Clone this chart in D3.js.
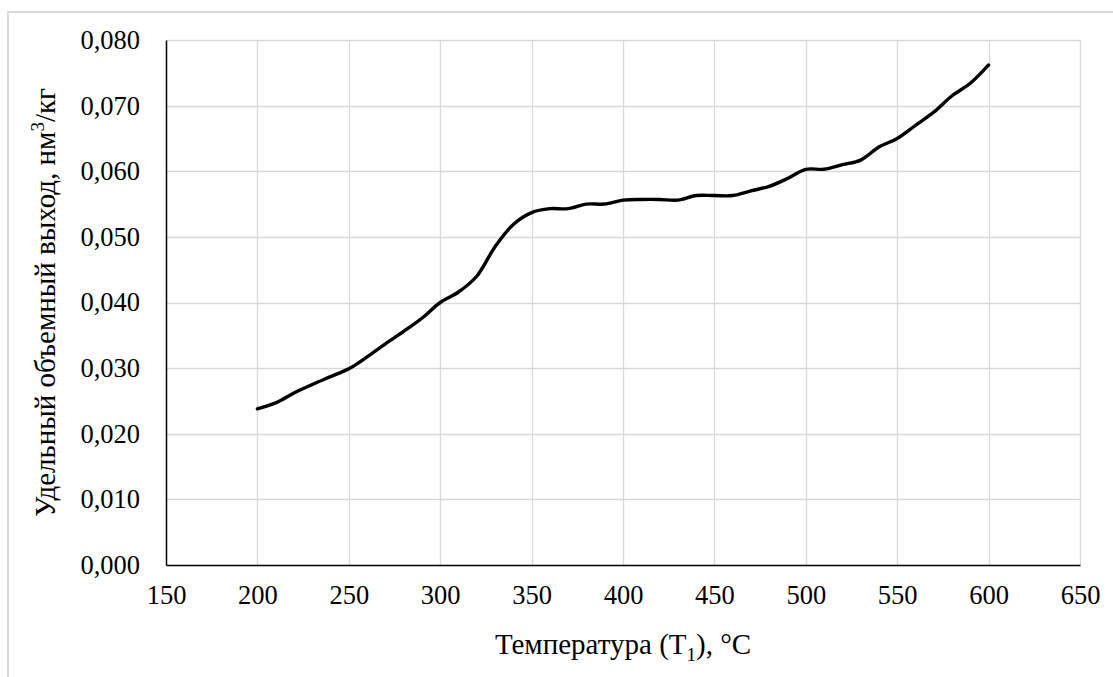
<!DOCTYPE html>
<html>
<head>
<meta charset="utf-8">
<script src="https://cdn.jsdelivr.net/npm/d3@7"></script>
<style>
  body { margin: 0; background: #fff; }
  svg text { font-family: "Liberation Serif", "Times New Roman", Times, serif !important; fill: #000; }
</style>
</head>
<body>
<div id="viz"></div>
<script>
const width = 1113;
const height = 677;
const margin = {top: 40, right: 33, bottom: 112, left: 166};

// data
const temps = [200, 210, 220, 230, 240, 250, 260, 270, 280, 290,
               300, 310, 320, 330, 340, 350, 360, 370, 380, 390,
               400, 410, 420, 430, 440, 450, 460, 470, 480, 490,
               500, 510, 520, 530, 540, 550, 560, 570, 580, 590, 600];
const yields = [0.0238, 0.0247, 0.0262, 0.0275, 0.0287, 0.0299, 0.0317, 0.0337, 0.0356, 0.0376,
                0.0400, 0.0416, 0.0440, 0.0485, 0.0519, 0.0537, 0.0543, 0.0543, 0.0550, 0.0550,
                0.0556, 0.0557, 0.0557, 0.0556, 0.0563, 0.0563, 0.0563, 0.0570, 0.0577, 0.0589,
                0.0603, 0.0603, 0.0610, 0.0617, 0.0637, 0.0650, 0.0670, 0.0690, 0.0715, 0.0734, 0.0762];
const xTicks = [150, 200, 250, 300, 350, 400, 450, 500, 550, 600, 650];
const yTicks = [0, 0.01, 0.02, 0.03, 0.04, 0.05, 0.06, 0.07, 0.08];

const gridColor = '#d9d9d9';

const svg = d3.select('#viz')
  .append('svg')
    .attr('width', width)
    .attr('height', height);

// outer chart frame (only left/top edges visible in the picture)
svg.append('rect')
  .attr('x', 8)
  .attr('y', 12)
  .attr('width', 1200)
  .attr('height', 800)
  .attr('fill', 'none')
  .attr('stroke', gridColor)
  .attr('stroke-width', 2);

const xScale = d3.scaleLinear()
  .domain([150, 650])
  .range([margin.left, width - margin.right]);

const yScale = d3.scaleLinear()
  .domain([0, 0.08])
  .range([height - margin.bottom, margin.top]);

const fmt = d => d3.format('.3f')(d).replace('.', ',');

// grid
svg.append('g')
  .selectAll('line')
  .data(yTicks.slice(1))
  .join('line')
    .attr('x1', margin.left)
    .attr('x2', width - margin.right)
    .attr('y1', d => Math.round(yScale(d)) + 0.5)
    .attr('y2', d => Math.round(yScale(d)) + 0.5)
    .attr('stroke', gridColor)
    .attr('stroke-width', 1.3);

svg.append('g')
  .selectAll('line')
  .data(xTicks.slice(1))
  .join('line')
    .attr('x1', d => Math.round(xScale(d)) + 0.5)
    .attr('x2', d => Math.round(xScale(d)) + 0.5)
    .attr('y1', margin.top)
    .attr('y2', height - margin.bottom)
    .attr('stroke', gridColor)
    .attr('stroke-width', 1.3);

// x axis
svg.append('g')
  .attr('transform', `translate(0, ${height - margin.bottom})`)
  .call(d3.axisBottom(xScale).tickValues(xTicks).tickSize(0).tickPadding(20))
  .call(g => g.attr('font-family', null).attr('font-size', null))
  .call(g => g.select('.domain').attr('stroke', '#000').attr('stroke-width', 1.5))
  .call(g => g.selectAll('text').style('font-size', '26.5px'));

// y axis
svg.append('g')
  .attr('transform', `translate(${margin.left}, 0)`)
  .call(d3.axisLeft(yScale).tickValues(yTicks).tickFormat(fmt).tickSize(0).tickPadding(26))
  .call(g => g.attr('font-family', null).attr('font-size', null))
  .call(g => g.select('.domain').attr('stroke', '#000').attr('stroke-width', 1.5))
  .call(g => g.selectAll('text').style('font-size', '26.5px'));

// line
const line = d3.line()
  .x((d, i) => xScale(temps[i]))
  .y(d => yScale(d))
  .curve(d3.curveCatmullRom.alpha(0.5));

svg.append('path')
  .attr('d', line(yields))
  .attr('fill', 'none')
  .attr('stroke', '#000')
  .attr('stroke-width', 3.4)
  .attr('stroke-linejoin', 'round')
  .attr('stroke-linecap', 'round');

// x title
const xTitle = svg.append('text')
  .attr('x', (margin.left + width - margin.right) / 2)
  .attr('y', 654)
  .attr('text-anchor', 'middle')
  .style('font-size', '29px');
xTitle.append('tspan').text('Температура (T');
xTitle.append('tspan').attr('dy', 7).style('font-size', '19px').text('1');
xTitle.append('tspan').attr('dy', -7).text('), °C');

// y title
const yTitle = svg.append('text')
  .attr('transform', `translate(55, ${(margin.top + height - margin.bottom) / 2}) rotate(-90)`)
  .attr('text-anchor', 'middle')
  .style('font-size', '29px');
yTitle.append('tspan').text('Удельный объемный выход, нм');
yTitle.append('tspan').attr('dy', -11).style('font-size', '19px').text('3');
yTitle.append('tspan').attr('dy', 11).text('/кг');
</script>
</body>
</html>
